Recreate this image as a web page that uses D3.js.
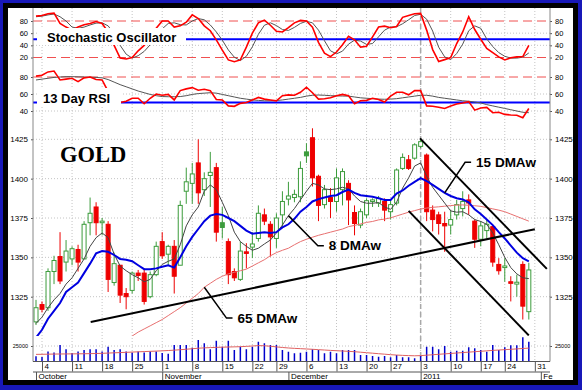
<!DOCTYPE html>
<html><head><meta charset="utf-8">
<script src="https://cdn.jsdelivr.net/npm/d3@7"></script>
<style>body{margin:0;background:#fff}svg{display:block}</style>
</head><body><svg id="c" width="582" height="390"></svg>
<script>
const dates = ["2010-10-01","2010-10-04","2010-10-05","2010-10-06","2010-10-07","2010-10-08","2010-10-11","2010-10-12","2010-10-13","2010-10-14","2010-10-15","2010-10-18","2010-10-19","2010-10-20","2010-10-21","2010-10-22","2010-10-25","2010-10-26","2010-10-27","2010-10-28","2010-10-29",
"2010-11-01","2010-11-02","2010-11-03","2010-11-04","2010-11-05","2010-11-08","2010-11-09","2010-11-10","2010-11-11","2010-11-12","2010-11-15","2010-11-16","2010-11-17","2010-11-18","2010-11-19","2010-11-22","2010-11-23","2010-11-24","2010-11-26","2010-11-29","2010-11-30",
"2010-12-01","2010-12-02","2010-12-03","2010-12-06","2010-12-07","2010-12-08","2010-12-09","2010-12-10","2010-12-13","2010-12-14","2010-12-15","2010-12-16","2010-12-17","2010-12-20","2010-12-21","2010-12-22","2010-12-23","2010-12-27","2010-12-28","2010-12-29","2010-12-30","2010-12-31",
"2011-01-03","2011-01-04","2011-01-05","2011-01-06","2011-01-07","2011-01-10","2011-01-11","2011-01-12","2011-01-13","2011-01-14","2011-01-18","2011-01-19","2011-01-20","2011-01-21","2011-01-24","2011-01-25","2011-01-26","2011-01-27","2011-01-28"];
const extraDates = ["2011-01-31","2011-02-01"];

const open  = [1309,1320,1318,1341,1350.5,1347,1349,1355,1349,1372,1382,1372,1371,1334,1345,1327,1329,1340,1340,1325,1339,1360,1352,1357,1345,1392,1397,1410,1393,1402,1407,1372,1360,1341,1336,1353.5,1356.5,1362,1377,1371,1362,1377,1387,1388,1388.5,1417,1426,1401.5,1383.5,1388,1385.5,1393,1397,1378.5,1370.5,1377,1385.5,1384.5,1385.5,1379,1384.5,1406.5,1412,1413,1420.5,1415,1380,1377,1371.5,1370.5,1377,1381,1386.5,1373,1361.5,1367,1369.5,1345.5,1343.5,1334.5,1333,1345.5,1315.5];
const high  = [1323,1322,1343,1351,1366,1361,1357,1358,1373,1388,1385,1375,1373,1353,1345,1330.5,1341,1342,1343,1341,1360,1366,1358,1361,1386,1407,1410,1425,1404,1417,1410,1382,1362,1343,1360,1359,1366,1383,1381,1373,1378,1392,1398,1393,1411,1422.5,1432,1402.5,1396,1394,1406.5,1406.5,1399,1383,1381,1387.5,1387.5,1389,1387.5,1386.5,1406.5,1416,1415,1422.5,1425.5,1416,1383,1379,1379,1380,1386.5,1392,1390,1374,1373,1374,1370.5,1349.5,1349.5,1338,1339,1347.5,1346.5];
const low   = [1307,1315,1316,1333,1333,1341,1345,1341,1349,1364,1364,1364,1328,1332,1321,1317,1327,1335,1320,1324,1338,1349,1345,1327,1345,1384,1384,1384,1389,1382,1360,1362,1333,1335,1335,1343,1349.5,1360,1370.5,1350.5,1356,1369.5,1383,1385,1385,1410,1395,1373,1381,1375,1379,1383,1370.5,1364,1368.5,1375,1382,1382,1373,1374,1383,1405.5,1405.5,1412,1419.5,1373,1366.5,1364.5,1353.5,1364.5,1374,1376,1377,1356,1357,1362,1344,1339,1334.5,1322,1325,1310.5,1310.5];
const close = [1318,1317,1341,1348,1335,1354,1355.5,1347,1371,1378,1372,1373,1336,1346,1326,1325,1340,1338.5,1322,1339,1357,1351,1357,1338,1383,1398,1403,1391,1400,1404,1366,1369,1339,1337,1354,1352.5,1358.5,1378,1373,1363,1375,1385.5,1389,1390,1406.5,1414.5,1400.5,1383,1393,1385.5,1400.5,1404.5,1386.5,1371.5,1379,1386,1386.5,1387.5,1380,1383.5,1405.5,1413.5,1406.5,1421.5,1423.5,1379,1374,1371.5,1370,1374,1383.5,1385.5,1384.5,1361.5,1370,1371,1347,1341.5,1344.5,1333.5,1334.2,1319,1342];
const volume = [8300,7300,16100,14500,26500,19800,13600,16100,18750,19800,19800,16100,23900,18750,19800,16100,14500,16100,14500,16100,16100,13600,12500,26500,26500,26500,22000,34700,29400,19700,33500,23900,33500,18500,23900,19700,23900,31900,29400,26600,26600,18500,15800,13200,14200,15800,19700,18500,13200,15800,13200,18500,18500,18500,10500,10500,8900,7700,8900,6800,10500,6800,6800,5200,8900,23900,23900,19700,25000,15800,17400,17400,22900,21300,18500,15800,26600,18500,22900,26100,26100,39000,31900];
const volMA = [11500,11600,11800,12000,12100,12200,12300,12400,12500,12700,12900,13200,13600,14000,14400,14800,15200,15600,16000,16400,16800,17200,17700,18300,19000,19800,20600,21400,22000,22400,22800,23100,23400,23600,23900,24400,25000,25600,25400,24600,23600,22600,21800,21200,20700,20200,19700,19100,18500,17900,17400,16900,16400,15800,15000,14200,13400,12600,11800,11000,10400,9900,9500,9200,9500,10200,10900,11600,12300,13000,13700,14400,15100,15800,16500,17200,17900,18500,19100,19700,20300,21000,21600];
const ma8  = [1308,1312,1318,1323,1327,1333,1337,1343,1349,1357,1362.5,1365.5,1362.5,1352,1344.5,1341.5,1339,1337,1334.5,1336,1341.5,1345.5,1347.5,1349,1358,1370,1377,1382,1392,1396,1393,1385,1376.5,1366,1360,1357,1354.5,1355.8,1358.5,1361,1365.5,1370.5,1376.5,1381,1386.5,1392,1397,1396,1393.5,1393,1393.5,1394.5,1393.5,1389,1385.5,1384.4,1384.4,1384.8,1382,1380.5,1385,1394,1400.5,1408,1410,1401.5,1394.5,1389.5,1384.5,1379.5,1378.7,1379,1377,1374,1372.8,1371,1365.5,1358,1350,1343.5,1339.5,1337,1336.5];
const ma15 = [1299,1304,1311,1316,1321,1328,1331,1334,1340,1346,1352.5,1354,1353.5,1351.5,1349,1348.5,1347.5,1345,1342.5,1342.5,1343,1344,1345,1343.5,1350,1357,1363,1368,1373,1376.5,1377.5,1377,1375,1373,1370,1367,1365,1365.5,1366,1365.5,1366,1369,1371,1374.5,1379,1382,1385.5,1387,1388,1389,1389.5,1391.5,1393,1391,1389.5,1389,1388.5,1387.5,1386.5,1386.5,1390.5,1392.5,1395.5,1398,1400.3,1398.5,1396,1393.5,1391,1389,1387.6,1386.8,1385,1380.5,1377.5,1374,1370.5,1366,1362,1357.5,1353,1349.5,1347.5];
const ma65 = [null,null,null,null,null,null,null,null,null,null,null,null,null,null,null,1297,1300,1302.5,1304.5,1306.5,1308.5,1310.5,1313,1315.5,1318,1321,1324,1327,1331,1333.5,1336,1338,1339.5,1340.5,1341.5,1342.5,1344.5,1346.5,1348.5,1351,1353,1354.5,1355.8,1358,1360,1361.5,1362.8,1364,1365,1366,1367,1368,1369.5,1370.3,1371.2,1372.2,1372.8,1373.8,1374.3,1375.1,1376.3,1377.5,1378.7,1379.7,1380.7,1381.3,1381.8,1382.1,1382.5,1382.9,1383.2,1383.3,1383.1,1382.8,1382.4,1381.6,1380.8,1380,1379,1377.5,1376,1374.5,1373];
const stochK = [88,89,92,93,76,70,65,70,74,76,79,76,62,40,19,17.5,20,31,40,52,68,80,80,70,72,78,90,84,72,64,49,32,16,13,16,37,60,77,81.5,73,63,62,69,77,81,80,70,45,27,21.5,29,41,55,49,37,38.5,54,70,71.5,69,71,86,89,92,92.5,65,33,13.5,16.5,20,43,62,87,66,50,35,28,21,16,19.5,21,21.5,40];
const stochD = [87,88,90,91.5,87,80,70,68,70,73.5,76.5,77,72,59,40,25.5,19,23,30,41,53,67,76,77,74,73.5,80,84,82,73.5,62,48.5,32.5,20.5,15,22,37.5,58,73,77,72.5,66,64.5,69.5,76,79.5,77,65,47.5,31,26,30.5,42,48.5,47,41.5,43,54,65,70,70.5,75.5,82,89,91,83,63.5,37,21,16.5,26.5,42,64,72,68,50.5,38,28,22,19,19,20.5,27.5];
const rsi = [81,82,86,87,76.5,77.5,78.5,74.5,79,80,77,76.5,63,55,50,51.5,55,55,48.5,55,60,58.5,59.5,53,64,66,67.5,64.5,65.5,64,53.5,53,46,45.5,49,50,53,56,54,53,52,58,59,58.5,62,68,61.5,54,54.5,55.5,58,59.5,58,48.5,52,52.5,55,53.5,50.5,57.5,62,62,59,64,64,46,45.5,44.5,43,46,48.2,49.5,51,41,43.5,44.3,38,38.5,36,35.3,35,32,43];
const rsiMA = [76.5,77.5,78.5,79.5,80,80.4,80.4,80.2,80,79.8,79.5,79,77,74,71,68.5,66,63.5,61.5,59.5,58,57,56.8,56.8,57,58,59.5,60.5,61,61.5,61,59.5,58,56.5,55,54,53,52.5,52,52,52.3,53,54,55,56,57.5,58.5,58.8,58.5,58,57.8,57.6,57.5,56.5,55.5,55,54.5,54,53.8,54,54.5,55.5,56.5,57.5,58.5,58.5,57.5,56,55,54,53,52,51.5,50.5,49.5,47.5,46,44.5,43,41.5,40,38.5,38];

const weekTicks = [["2010-10-04","4"],["2010-10-11","11"],["2010-10-18","18"],["2010-10-25","25"],["2010-11-01","1"],["2010-11-08","8"],["2010-11-15","15"],["2010-11-22","22"],["2010-11-29","29"],["2010-12-06","6"],["2010-12-13","13"],["2010-12-20","20"],["2010-12-27","27"],["2011-01-03","3"],["2011-01-10","10"],["2011-01-18","17"],["2011-01-24","24"],["2011-01-31","31"]];
const monthTicks = [["2010-10-01","October"],["2010-11-01","November"],["2010-12-01","December"],["2011-01-03","2011"],["2011-02-01","Fe"]];
const priceTicks = [1325,1350,1375,1400,1425];
const stochTicks = [20,40,60,80];
const rsiTicks = [40,60,80];
const volTicks = [25000];

const svg = d3.select("#c");
const FONT = "Liberation Sans, Arial, sans-serif";

// frame
svg.append("rect").attr("width",582).attr("height",390).attr("fill","#1818b8");
svg.append("rect").attr("x",3).attr("y",3).attr("width",575).attr("height",382).attr("fill","#000");
svg.append("rect").attr("x",8).attr("y",8).attr("width",565).attr("height",372).attr("fill","#fff");

const L = 33, R = 550;
const axisDates = dates.concat(extraDates);
const x = d3.scalePoint().domain(axisDates).range([36, 36 + 6.01*(axisDates.length-1)]);
const step = x.step();
const xi = i => x.range()[0] + i*step;

const yS = d3.scaleLinear().domain([20,80]).range([57.5,21]);
const yR = d3.scaleLinear().domain([40,80]).range([111,77]);
const yP = d3.scaleLinear().domain([1325,1425]).range([296.7,139.3]);
const yV = d3.scaleLinear().domain([0,25000]).range([361.5,346]);

const panels = {stoch:[8,68], rsi:[68,120], price:[120,336], vol:[336,361.5]};
const defs = svg.append("defs");
Object.entries(panels).forEach(([k,[t,b]]) => {
  defs.append("clipPath").attr("id","clip-"+k).append("rect").attr("x",L).attr("y",t).attr("width",R-L).attr("height",b-t);
});
const layer = k => svg.append("g").attr("clip-path",`url(#clip-${k})`);

// grid
const grid = svg.append("g");
weekTicks.forEach(([d]) => {
  grid.append("line").attr("x1",x(d)).attr("x2",x(d)).attr("y1",8).attr("y2",361.5)
    .attr("stroke","#c4c4c4").attr("stroke-dasharray","1,2");
});
const hgrid = (vals, sc) => vals.forEach(v => grid.append("line").attr("x1",L).attr("x2",R).attr("y1",sc(v)).attr("y2",sc(v)).attr("stroke","#c4c4c4").attr("stroke-dasharray","1,2"));
hgrid(priceTicks, yP); hgrid([40,60], yS); hgrid([60,40], yR); hgrid(volTicks, yV);
grid.append("line").attr("x1",x("2011-01-03")).attr("x2",x("2011-01-03")).attr("y1",8).attr("y2",361.5)
  .attr("stroke","#a8a8a8").attr("stroke-width",1.5).attr("stroke-dasharray","5,3");

// stochastic panel
const gS = layer("stoch");
[80,20].forEach(v => gS.append("line").attr("x1",L).attr("x2",R).attr("y1",yS(v)).attr("y2",yS(v)).attr("stroke","#f05050").attr("stroke-dasharray","9,5"));
gS.append("line").attr("x1",L).attr("x2",R).attr("y1",yS(50)).attr("y2",yS(50)).attr("stroke","#0000ff").attr("stroke-width",2);
const lineS = arr => d3.line().x((d,i)=>x(dates[i])).y(d=>yS(d))(arr);
gS.append("path").attr("d",lineS(stochD)).attr("fill","none").attr("stroke","#555").attr("stroke-width",1);
gS.append("path").attr("d",lineS(stochK)).attr("fill","none").attr("stroke","#ff0000").attr("stroke-width",1.6);

// RSI panel
const gR = layer("rsi");
gR.append("line").attr("x1",L).attr("x2",R).attr("y1",yR(80)).attr("y2",yR(80)).attr("stroke","#f05050").attr("stroke-dasharray","9,5");
gR.append("line").attr("x1",L).attr("x2",R).attr("y1",yR(50)).attr("y2",yR(50)).attr("stroke","#0000ff").attr("stroke-width",2);
const lineR = arr => d3.line().x((d,i)=>x(dates[i])).y(d=>yR(d))(arr);
gR.append("path").attr("d",lineR(rsiMA)).attr("fill","none").attr("stroke","#555").attr("stroke-width",1);
gR.append("path").attr("d",lineR(rsi)).attr("fill","none").attr("stroke","#ff0000").attr("stroke-width",1.6);

const title = (txt, bx, by, bw, bh, tx, ty) => {
  svg.append("rect").attr("x",bx).attr("y",by).attr("width",bw).attr("height",bh).attr("fill","#fff");
  svg.append("text").attr("x",tx).attr("y",ty).text(txt).attr("font-family",FONT).attr("font-weight","bold").attr("font-size",13).attr("fill","#000");
};
title("Stochastic Oscillator", 37, 28, 149, 17, 47, 41.5);
title("13 Day RSI", 37, 88, 84, 18, 43, 103);

// price panel
const gP = layer("price");
const GREEN = "#3c9c3c", RED = "#ee0000";
dates.forEach((d,i) => {
  const up = i===0 || close[i] >= close[i-1];
  const col = up ? GREEN : RED;
  const filled = close[i] < open[i];
  const cx = x(d);
  gP.append("line").attr("x1",cx).attr("x2",cx).attr("y1",yP(high[i])).attr("y2",yP(low[i])).attr("stroke",col).attr("stroke-width",1);
  const y0 = yP(Math.max(open[i],close[i])), y1 = yP(Math.min(open[i],close[i]));
  gP.append("rect").attr("x",cx-2).attr("y",y0).attr("width",4).attr("height",Math.max(1,y1-y0))
    .attr("fill", filled ? col : "#fff").attr("stroke",col).attr("stroke-width",1);
});
const lineP = arr => d3.line().defined(d=>d!==null).x((d,i)=>x(dates[i])).y(d=>yP(d))(arr);
gP.append("path").attr("d",lineP(ma65)).attr("fill","none").attr("stroke","#e87070").attr("stroke-width",1);
gP.append("path").attr("d",lineP(ma8)).attr("fill","none").attr("stroke","#444").attr("stroke-width",1);
gP.append("path").attr("d",lineP(ma15)).attr("fill","none").attr("stroke","#0000e0").attr("stroke-width",2);

const trends = [[[9.1,1308.9],[83,1367.9]], [[63.9,1425.6],[85,1342.7]], [[62,1379.5],[82,1300.4]]];
trends.forEach(([a,b]) => gP.append("line").attr("x1",xi(a[0])).attr("y1",yP(a[1])).attr("x2",xi(b[0])).attr("y2",yP(b[1])).attr("stroke","#000").attr("stroke-width",2));

const notes = [["15 DMAw",68,ma15,[71.4,1410.4]], ["8 DMAw",42,ma8,[46.9,1357.3]], ["65 DMAw",28,ma65,[31.7,1311.4]]];
notes.forEach(([txt,i,ser,el]) => {
  const ex = xi(el[0]), ey = yP(el[1]);
  svg.append("path").attr("d",`M${x(dates[i])},${yP(ser[i])}L${ex},${ey}L${ex+6},${ey}`).attr("fill","none").attr("stroke","#000").attr("stroke-width",1.5);
  svg.append("text").attr("x",ex+11).attr("y",ey+4.5).text(txt).attr("font-family",FONT).attr("font-weight","bold").attr("font-size",13.5).attr("fill","#000");
});
svg.append("text").attr("x",60).attr("y",161.5).text("GOLD").attr("font-family","Liberation Serif, Times New Roman, serif").attr("font-weight","bold").attr("font-size",22.5).attr("fill","#000");

// volume panel
const gV = layer("vol");
dates.forEach((d,i) => gV.append("line").attr("x1",x(d)).attr("x2",x(d)).attr("y1",yV(0)).attr("y2",yV(volume[i])).attr("stroke","#0000cc").attr("stroke-width",1.5));
gV.append("path").attr("d",d3.line().x((d,i)=>x(dates[i])).y(d=>yV(d))(volMA)).attr("fill","none").attr("stroke","#e06060").attr("stroke-width",1);

function yAxes(scale, ticks, fs, fmt) {
  [[d3.axisLeft, L],[d3.axisRight, R]].forEach(([ax, pos]) => {
    const g = svg.append("g").attr("transform",`translate(${pos},0)`)
      .call(ax(scale).tickValues(ticks).tickSize(2).tickPadding(3).tickFormat(fmt||d3.format("d")));
    g.select(".domain").remove();
    g.selectAll("text").attr("font-size",fs).attr("font-family",FONT).attr("fill","#000");
    g.selectAll("line").attr("stroke","#555");
  });
}
yAxes(yS, stochTicks, 7.5);
yAxes(yR, rsiTicks, 7.5);
yAxes(yP, priceTicks, 8);
yAxes(yV, volTicks, 5.5);
[L,R].forEach(px => svg.append("line").attr("x1",px).attr("x2",px).attr("y1",8).attr("y2",361.5).attr("stroke","#888").attr("stroke-width",1));

const gx = svg.append("g").attr("transform","translate(0,361.5)")
  .call(d3.axisBottom(x).tickValues(weekTicks.map(d=>d[0])).tickSize(10).tickFormat(d=>weekTicks.find(w=>w[0]===d)[1]));
gx.select(".domain").attr("d",`M${L},0H${R}`).attr("stroke","#555");
gx.selectAll("line").attr("stroke","#555");
gx.selectAll("text").attr("text-anchor","start").attr("x",2).attr("y",2).attr("dy","0.71em").attr("font-size",8).attr("font-family",FONT).attr("fill","#000");
const gm = svg.append("g").attr("transform","translate(0,372)")
  .call(d3.axisBottom(x).tickValues(monthTicks.map(d=>d[0])).tickSize(8).tickFormat(d=>monthTicks.find(w=>w[0]===d)[1]));
gm.select(".domain").attr("d",`M${L},0H${R}`).attr("stroke","#555");
gm.selectAll("line").attr("stroke","#555");
gm.selectAll("text").attr("text-anchor","start").attr("x",2).attr("y",1).attr("dy","0.71em").attr("font-size",8).attr("font-family",FONT).attr("fill","#000");
</script></body></html>
